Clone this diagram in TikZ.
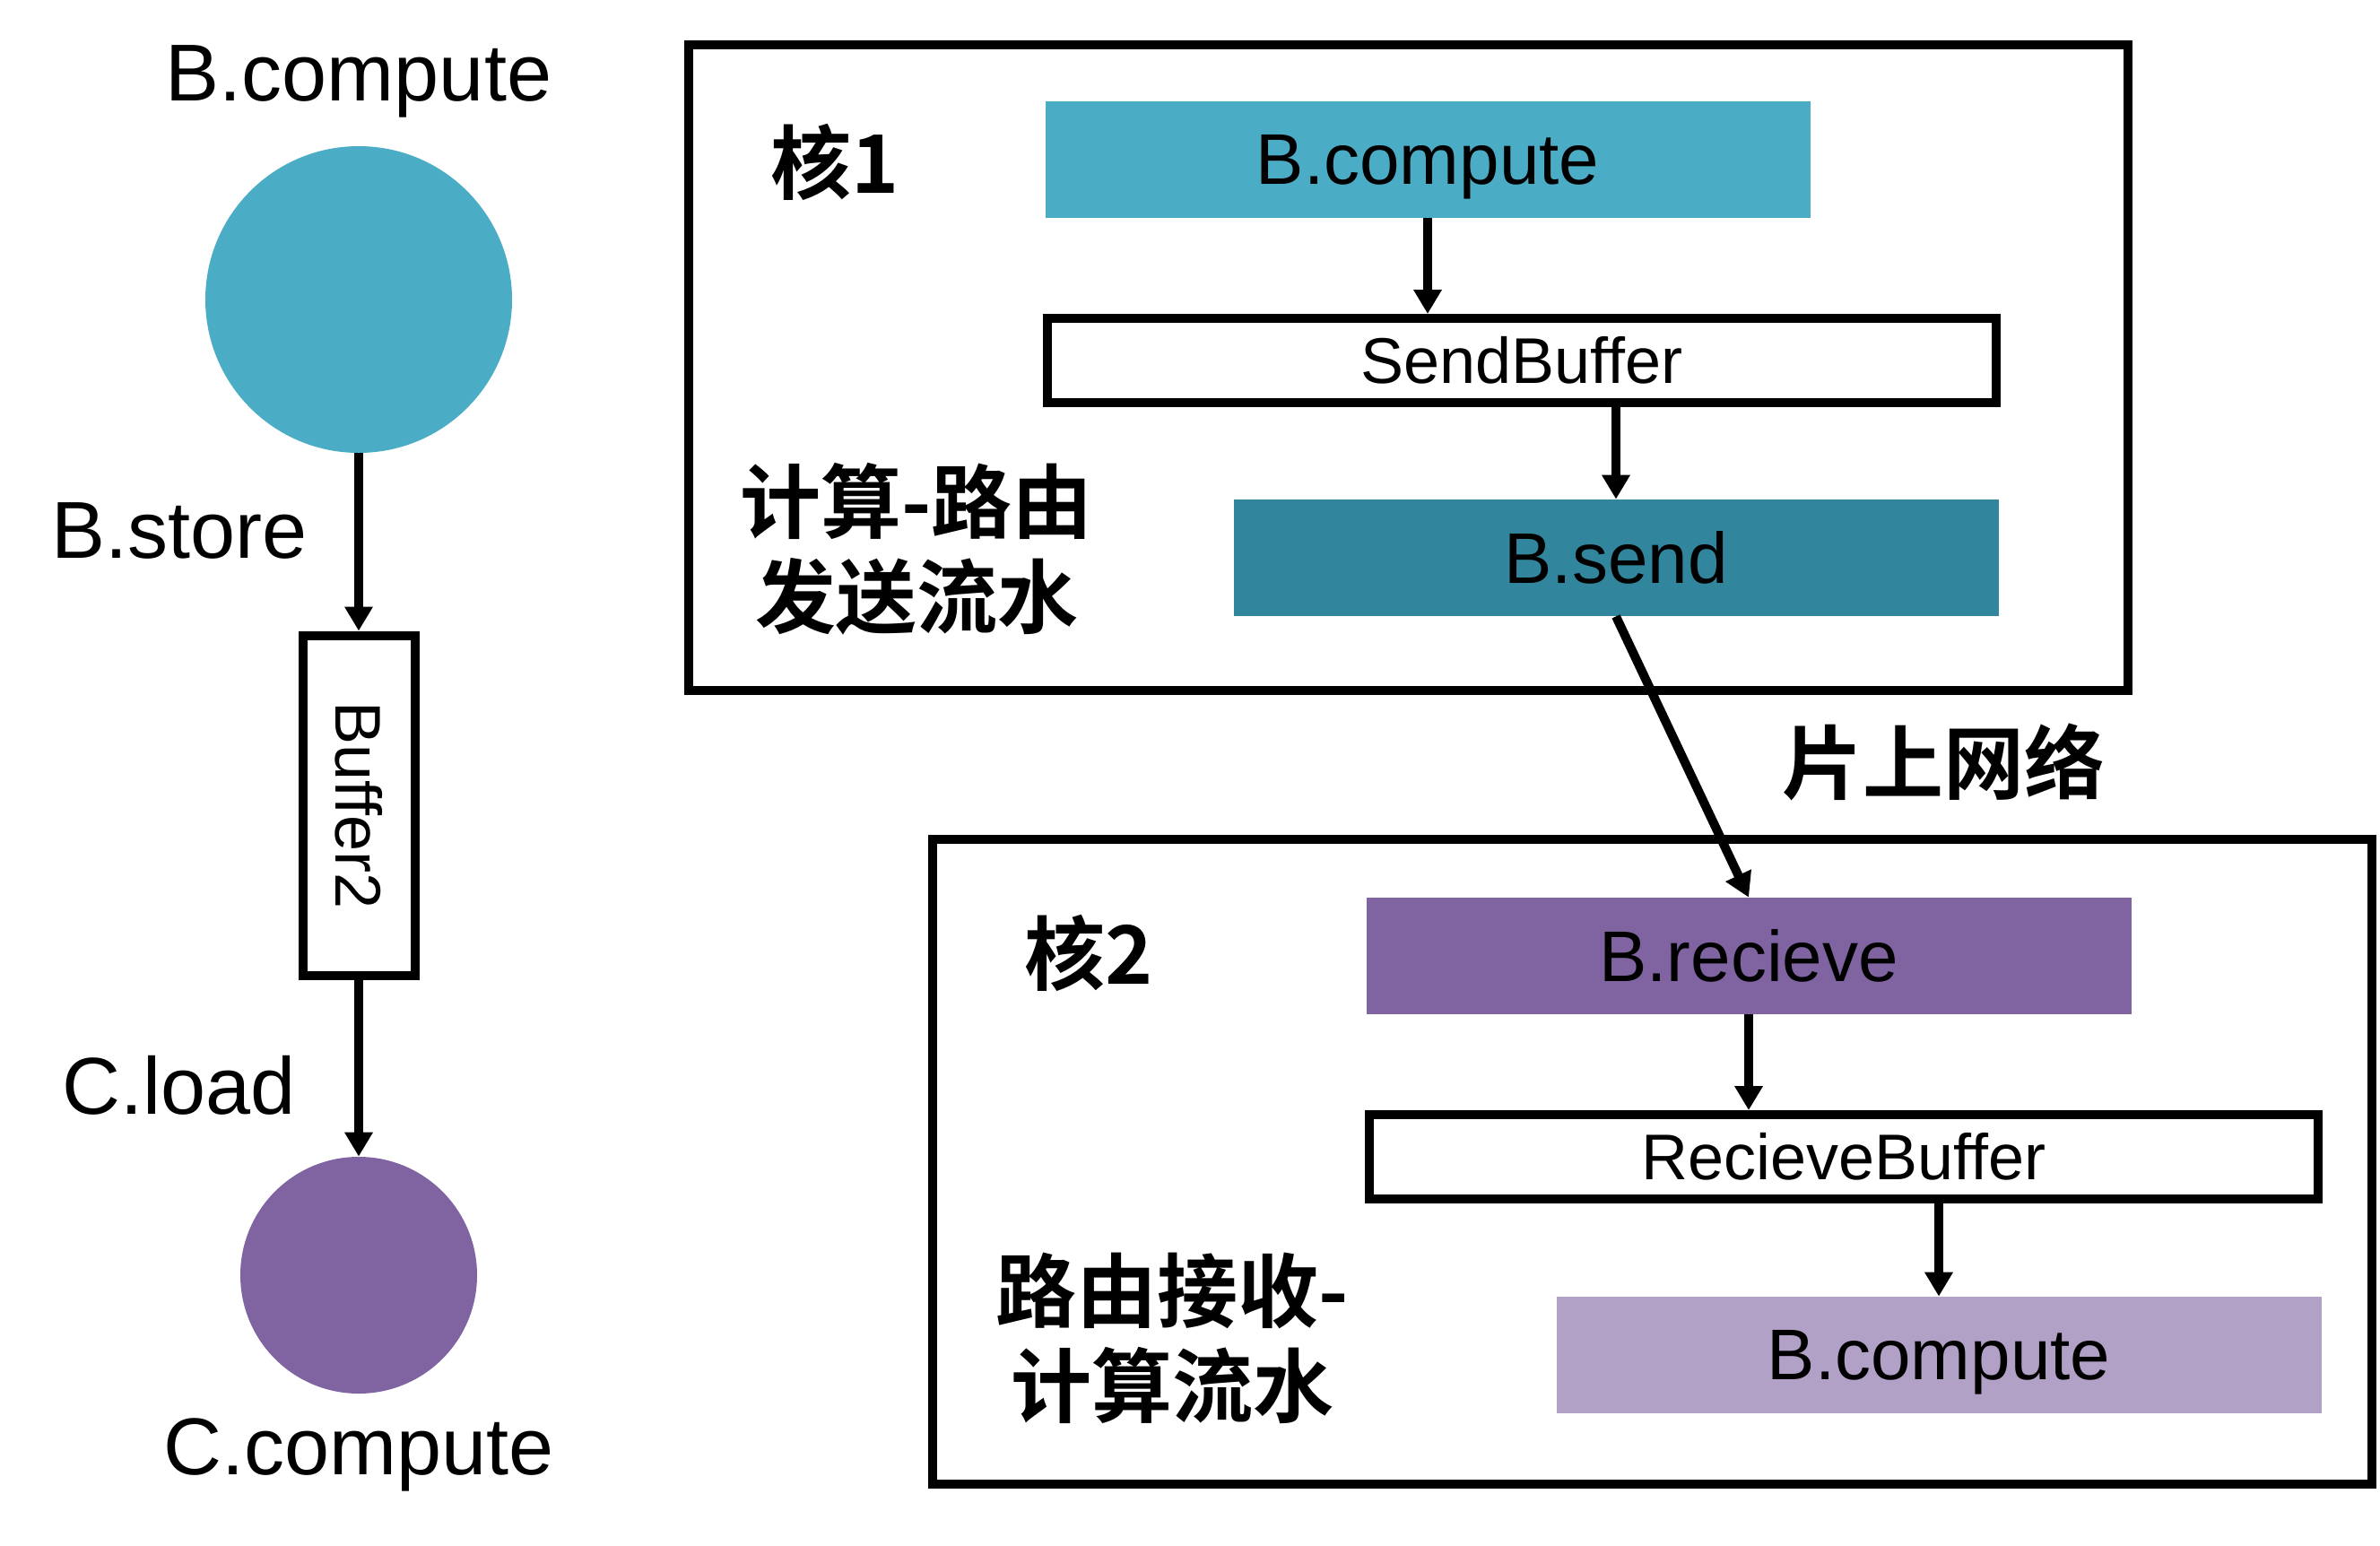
\documentclass[tikz,border=0pt]{standalone}
\usepackage{fontspec}
\usepackage{graphicx}
\setmainfont{Liberation Sans}
\newfontfamily\cjkbf{Noto Sans CJK SC Bold}
\usetikzlibrary{arrows.meta,positioning}
\definecolor{cCompute}{RGB}{75,172,198}
\definecolor{cSend}{RGB}{49,133,156}
\definecolor{cRecv}{RGB}{128,100,162}
\definecolor{cComputeB}{RGB}{178,161,199}

\begin{document}
\begin{tikzpicture}[x=1pt, y=-1pt,
    lbl/.style={font=\fontsize{45}{54}\selectfont},
    cjklbl/.style={font=\cjkbf\fontsize{45}{53}\selectfont, align=center},
    stage/.style={rectangle, inner sep=0pt, minimum width=426.5pt, minimum height=65pt,
                  text depth=0pt, font=\fontsize{40}{48}\selectfont},
    bufbox/.style={rectangle, draw=black, line width=5pt, fill=white, inner sep=0pt,
                   minimum width=529pt, minimum height=47pt, font=\fontsize{36}{43}\selectfont},
    corebox/.style={rectangle, draw=black, line width=5pt, minimum width=802.5pt, minimum height=359.5pt},
    arr/.style={-{Triangle[length=13.5pt,width=15pt]}, line width=5pt}]
    \useasboundingbox (0,0) rectangle (1327,861.5);

    % left: dependency chain
    \node[circle, fill=cCompute, minimum size=171pt, inner sep=0pt] (circB) at (200,167) {};
    \node[lbl] (lblBc) at (200,45.5) {B.compute};
    \node[rectangle, draw=black, line width=5pt, inner sep=0pt, minimum width=62.5pt,
          minimum height=189.5pt, font=\fontsize{36}{43}\selectfont] (buf2) at (200,449)
      {\rotatebox{-90}{Buffer2}};
    \node[circle, fill=cRecv, minimum size=132pt, inner sep=0pt] (circC) at (200,711) {};
    \node[lbl] (lblCc) at (200,811) {C.compute};
    \node[lbl] (lblStore) at (100,296) {B.store};
    \node[lbl] (lblLoad) at (100,605) {C.load};
    \draw[arr] (circB.south) -- (buf2.north);
    \draw[arr] (buf2.south) -- (circC.north);

    % core 1
    \node[corebox] (core1) at (785,205) {};
    \node[cjklbl] (lblCore1) at (465.5,90.5) {核1};
    \node[cjklbl] (lblPipe1) at (511,306) {计算-路由\\发送流水};
    \node[stage, fill=cCompute] (comp1) at (796,89) {B.compute};
    \node[bufbox] (sbuf) at (848.5,201) {SendBuffer};
    \node[stage, fill=cSend] (send) at (901,311) {B.send};
    \draw[arr] (comp1.south) -- (comp1.south |- sbuf.north);
    \draw[arr] (send.north |- sbuf.south) -- (send.north);

    % network
    \node[cjklbl] (lblNoc) at (1083.5,425) {片上网络};

    % core 2
    \node[corebox] (core2) at (921,647.75) {};
    \node[cjklbl] (lblCore2) at (607,531.5) {核2};
    \node[cjklbl] (lblPipe2) at (653.5,746) {路由接收-\\计算流水};
    \node[stage, fill=cRecv] (recv) at (975,533) {B.recieve};
    \node[bufbox] (rbuf) at (1028,645) {RecieveBuffer};
    \node[stage, fill=cComputeB] (comp2) at (1081,755.5) {B.compute};
    \draw[arr] (recv.south) -- (recv.south |- rbuf.north);
    \draw[arr] (comp2.north |- rbuf.south) -- (comp2.north);

    \draw[arr] (send.south) -- (recv.north);
  \end{tikzpicture}
\end{document}
